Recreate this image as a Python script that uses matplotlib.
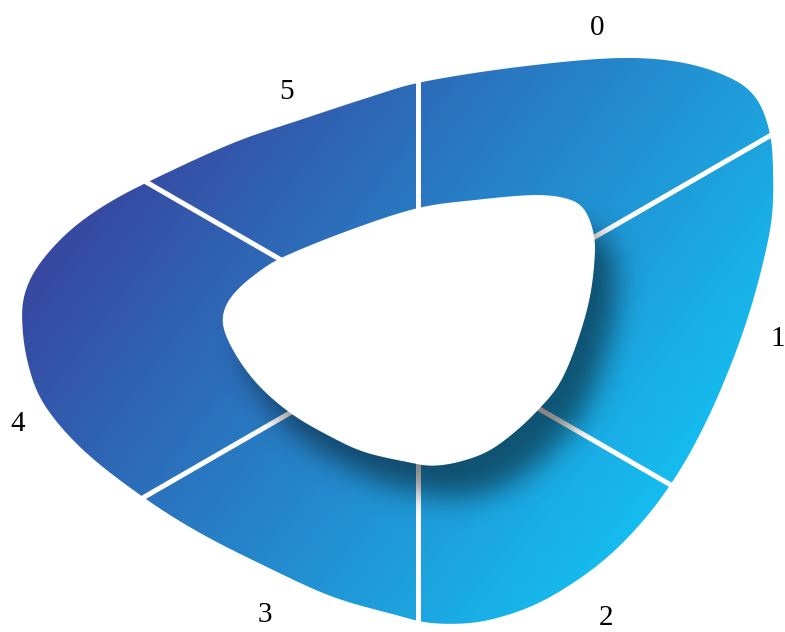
import numpy as np
import matplotlib
matplotlib.use('Agg')
import matplotlib.pyplot as plt
from matplotlib.path import Path
from matplotlib.patches import PathPatch
from matplotlib.colors import LinearSegmentedColormap

# data: six equal slices
labels = ['0', '1', '2', '3', '4', '5']
values = [1, 1, 1, 1, 1, 1]

# canvas / ring centre (pixels)
W, H = 785, 632
cx, cy = 418, 339

# outline of the ring shape (outer edge, inner hole), pixel space
outer_pts = [(422, 82), (518, 67), (618, 58), (685, 63), (735, 80), (758, 100),
             (770, 133), (773, 167), (772, 217), (762, 267), (748, 317), (730, 367),
             (707, 420), (680, 470), (648, 515), (610, 555), (570, 585), (530, 607),
             (485, 621), (450, 624), (422, 622), (400, 616), (333, 597), (267, 567),
             (200, 533), (143, 497), (83, 450), (43, 403), (27, 360), (22, 320),
             (24, 295), (37, 267), (67, 233), (105, 205), (152, 180), (233, 143),
             (300, 120), (370, 97)]
inner_pts = [(418, 208), (475, 200), (533, 195), (565, 198), (583, 207), (593, 230),
             (595, 253), (590, 297), (577, 343), (560, 383), (540, 408), (515, 432),
             (487, 452), (455, 463), (430, 466), (417, 464), (367, 453), (333, 438),
             (293, 415), (260, 387), (237, 357), (223, 327), (225, 307), (237, 290),
             (257, 273), (283, 257), (350, 230)]

grad_start, grad_end = '#3a3f9b', '#12c8f7'
label_pad = [37, 37, 48, 44, 36, 31]
label_shift = [0, 0, 4, 1, 12, -2]


def closed_spline(pts, n=30):
    P = np.asarray(pts, float)
    m = len(P)
    t = np.linspace(0, 1, n, endpoint=False)[:, None]
    out = []
    for i in range(m):
        p0, p1, p2, p3 = P[i - 1], P[i], P[(i + 1) % m], P[(i + 2) % m]
        out.append(0.5 * (2 * p1 + (-p0 + p2) * t + (2 * p0 - 5 * p1 + 4 * p2 - p3) * t ** 2
                          + (-p0 + 3 * p1 - 3 * p2 + p3) * t ** 3))
    return np.vstack(out)


def smooth_outline(pts, sigma, N=1200):
    c = closed_spline(pts)
    cc = np.vstack([c, c[:1]])
    s = np.concatenate([[0], np.cumsum(np.hypot(*np.diff(cc, axis=0).T))])
    L = s[-1]
    su = np.linspace(0, L, N, endpoint=False)
    x = np.interp(su, s, cc[:, 0])
    y = np.interp(su, s, cc[:, 1])
    g = np.exp(-2 * np.pi ** 2 * sigma ** 2 * np.fft.fftfreq(N, d=L / N) ** 2)
    x = np.real(np.fft.ifft(np.fft.fft(x) * g))
    y = np.real(np.fft.ifft(np.fft.fft(y) * g))
    return np.column_stack([x, y])


def radius_fn(pts, sigma):
    c = smooth_outline(pts, sigma)
    th = np.degrees(np.arctan2(cy - c[:, 1], c[:, 0] - cx))
    r = np.hypot(c[:, 0] - cx, c[:, 1] - cy)
    o = np.argsort(th)
    th, r = th[o], r[o]
    return lambda a: np.interp((np.asarray(a) + 180) % 360 - 180, th, r, period=360)


r_out = radius_fn(outer_pts, 9)
r_in = radius_fn(inner_pts, 6)


def xy(a, r):
    a = np.radians(a)
    return cx + r * np.cos(a), cy - r * np.sin(a)


# sector boundaries, clockwise from 12 o'clock
frac = np.cumsum([0] + values) / np.sum(values)
bounds = 90 - 360 * frac

verts, codes = [], []
for k in range(len(values)):
    a = np.linspace(bounds[k], bounds[k + 1], 120)
    ox, oy = xy(a, r_out(a))
    ix, iy = xy(a[::-1], r_in(a[::-1]))
    poly = np.column_stack([np.concatenate([ox, ix]), np.concatenate([oy, iy])])
    verts.append(poly)
    verts.append(poly[:1])
    codes += [Path.MOVETO] + [Path.LINETO] * (len(poly) - 1) + [Path.CLOSEPOLY]
ring = Path(np.vstack(verts), codes)

fig = plt.figure(figsize=(W / 100, H / 100), dpi=100)
ax = fig.add_axes([0, 0, 1, 1])
ax.set_xlim(0, W)
ax.set_ylim(H, 0)
ax.axis('off')

# diagonal gradient fill
X, Y = np.meshgrid(np.arange(W) + 0.5, np.arange(H) + 0.5)
t = np.clip(((X * 0.8 + Y * 0.6) - 144) / 746, 0, 1)
cmap = LinearSegmentedColormap.from_list('g', [grad_start, grad_end])
im = ax.imshow(t, cmap=cmap, vmin=0, vmax=1, extent=[0, W, H, 0], interpolation='bilinear', zorder=1)
im.set_clip_path(PathPatch(ring, transform=ax.transData))

# white separators
for b in bounds[:-1]:
    x0, y0 = xy(b, r_in(b) - 4)
    x1, y1 = xy(b, r_out(b) + 4)
    ax.plot([x0, x1], [y0, y1], color='white', lw=3.6, solid_capstyle='butt', zorder=2)

# drop shadow of the hole onto the ring
a = np.linspace(-180, 180, 720, endpoint=False)
hx, hy = xy(a, r_in(a))
sx, sy = 22, 32
mask = Path(np.column_stack([hx + sx, hy + sy])).contains_points(
    np.column_stack([X.ravel(), Y.ravel()])).reshape(H, W).astype(float)
sig = 14
kx = np.arange(-3 * sig, 3 * sig + 1)
ker = np.exp(-kx ** 2 / (2 * sig ** 2))
ker /= ker.sum()
blur = np.apply_along_axis(lambda v: np.convolve(v, ker, mode='same'), 1, mask)
blur = np.apply_along_axis(lambda v: np.convolve(v, ker, mode='same'), 0, blur)
shadow = np.zeros((H, W, 4))
shadow[..., 3] = 0.48 * blur
sh = ax.imshow(shadow, extent=[0, W, H, 0], interpolation='bilinear', zorder=3)
sh.set_clip_path(PathPatch(ring, transform=ax.transData))

# labels
for k, lab in enumerate(labels):
    m = (bounds[k] + bounds[k + 1]) / 2 + label_shift[k]
    lx, ly = xy(m, r_out(m) + label_pad[k])
    ax.text(lx, ly, lab, ha='center', va='center', fontsize=21,
            family='Liberation Serif', color='black', zorder=4)

fig.savefig('out.png', dpi=100)
